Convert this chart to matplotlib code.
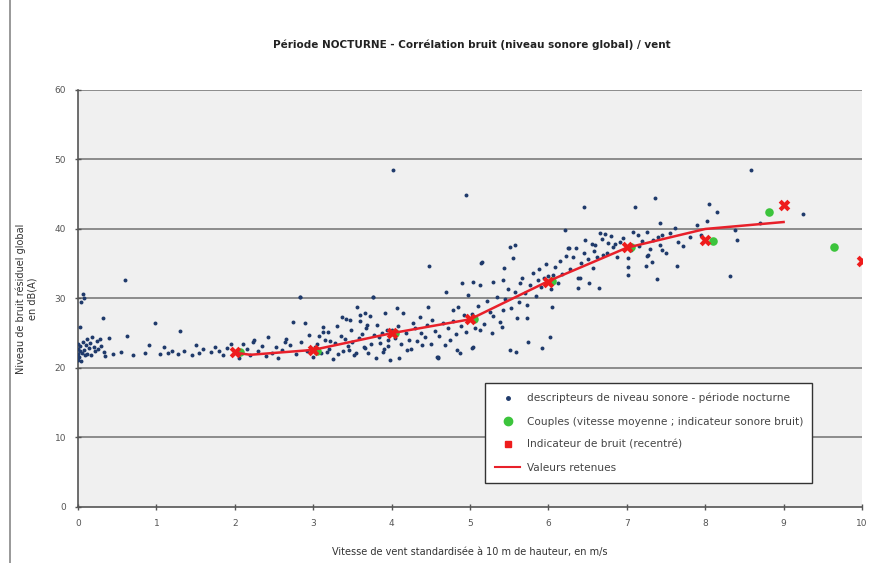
import numpy as np
import matplotlib
matplotlib.use('Agg')
import matplotlib.pyplot as plt
from matplotlib.lines import Line2D

# descripteurs de niveau sonore
desc_x = [0.00, 0.00, 0.00, 0.00, 0.01, 0.02, 0.03, 0.04, 0.05, 0.06, 0.08, 0.09, 0.10, 0.11, 0.12,
          0.14, 0.15, 0.17, 0.18, 0.20, 0.22, 0.24, 0.26, 0.28, 0.30, 0.33, 0.02, 0.04, 0.06, 0.08,
          0.32, 0.60, 0.35, 0.40, 0.45,
          0.55, 0.62, 0.70, 0.85, 0.90, 0.98, 1.05, 1.10, 1.15, 1.30, 1.35, 1.45, 1.50, 1.55, 1.60,
          1.70, 1.75, 1.80, 1.85, 1.90, 1.95, 1.28, 1.20,
          2.05, 2.10, 2.15, 2.20, 2.25, 2.30, 2.35, 2.40, 2.43, 2.48, 2.52, 2.55, 2.60, 2.65, 2.70,
          2.74, 2.78, 2.83, 2.85, 2.90, 2.92, 2.95, 3.00, 3.05, 3.10, 3.12, 3.15, 3.20, 3.25, 3.28,
          3.30, 3.35, 3.38, 3.42, 3.45, 3.48, 3.52, 3.56, 3.58, 3.60, 3.65, 3.68, 3.70, 3.72, 3.76,
          3.78, 3.80, 3.82, 3.85, 3.88, 3.90, 3.92, 3.95, 3.98,
          3.37, 3.47, 3.60, 3.66, 3.69, 3.13, 3.19, 2.64, 2.23,
          4.07, 4.15, 4.46, 4.36, 4.51, 4.27, 3.94, 3.89, 4.10, 4.20, 4.39, 4.58,
          3.02, 3.08, 3.18, 3.22, 3.32, 3.40, 3.46, 3.50, 3.55, 3.62, 3.66, 3.74, 3.84, 3.96, 4.00,
          4.05, 4.08, 4.12, 4.18, 4.22, 4.25, 4.30, 4.33, 4.38, 4.42, 4.45, 4.50, 4.55, 4.60, 4.65,
          4.68, 4.72, 4.78, 4.82, 4.88, 4.92, 4.95, 4.98, 5.02, 5.06, 5.10, 5.18, 5.22, 5.30, 5.35,
          5.38, 5.45, 5.48, 5.52, 5.58, 5.62, 5.66, 5.70, 5.76, 5.80, 5.84, 5.88, 5.90, 5.94, 5.97,
          6.00, 6.03, 6.08, 6.12, 6.15, 6.18, 6.22, 6.28, 6.32, 6.35, 6.42, 6.45, 6.50, 6.55, 6.58,
          6.68, 6.75, 6.80, 6.85, 6.88, 6.95, 7.05, 7.08, 7.15, 7.20, 7.30, 7.40, 7.50, 7.55, 7.62,
          7.72, 7.80, 7.90, 7.95,
          4.02, 4.95, 6.45, 7.10, 7.36, 6.21, 4.48, 5.51, 5.57, 5.55, 5.14, 5.43,
          5.15, 4.90, 5.04, 5.13, 5.30, 5.42, 4.70, 4.97, 5.64, 5.87, 6.06, 6.40, 6.25, 6.47, 6.05,
          5.73, 5.42, 5.26, 4.78, 4.85, 5.13, 5.28, 5.41, 5.60, 5.73, 5.74, 5.51, 5.92, 6.02, 4.59,
          4.87, 5.04, 4.74,
          8.05, 8.15, 8.02, 7.42, 6.66, 6.72, 6.60, 6.76, 6.83, 6.91, 6.26, 7.14, 7.26, 7.42, 7.65,
          7.27, 7.32, 7.24, 7.01, 7.01, 7.01, 7.38, 7.64, 6.38, 6.52, 6.65, 6.38, 6.57, 6.62, 6.70,
          8.58, 9.25, 8.40, 8.38, 8.70, 8.32, 7.45, 7.34, 7.45, 7.26,
          5.59, 4.83, 5.02, 4.59, 2.83, 3.76]
desc_y = [21.2, 22.0, 22.8, 23.5, 21.6, 22.4, 23.1, 21.0, 22.1, 23.8, 22.6, 21.8, 23.3, 24.2, 22.0,
          22.9, 23.6, 21.9, 24.5, 23.0, 22.4, 23.9, 22.7, 24.1, 23.2, 22.3, 25.9, 29.5, 30.6, 30.1,
          27.2, 32.7, 21.7, 24.3, 22.0,
          22.3, 24.6, 21.9, 22.1, 23.3, 26.5, 22.0, 23.0, 22.2, 25.3, 22.4, 21.9, 23.3, 22.1, 22.8,
          22.3, 23.0, 22.5, 21.8, 22.9, 23.5, 22.0, 22.5,
          21.5, 23.4, 22.8, 21.9, 24.0, 22.4, 23.1, 21.7, 24.5, 22.2, 23.0, 21.4, 22.6, 24.2, 23.3,
          26.6, 22.0, 30.2, 23.8, 26.5, 22.5, 24.8, 21.6, 23.4, 22.1, 25.2, 24.0, 22.8, 21.3, 23.6,
          26.0, 24.6, 22.4, 27.1, 23.2, 25.5, 21.8, 28.8, 24.3, 26.7, 23.0, 25.8, 22.1, 27.5, 30.2,
          24.7, 21.5, 26.2, 23.6, 25.1, 22.7, 27.9, 24.0, 21.2,
          27.3, 26.9, 27.6, 27.9, 26.2, 25.9, 25.2, 23.7, 23.7,
          28.6, 27.9, 28.8, 27.3, 26.9, 26.5, 25.5, 22.3, 21.4, 22.6, 23.3, 21.6,
          23.0, 24.6, 22.3, 23.9, 22.0, 24.1, 22.6, 23.7, 22.2, 24.9, 22.9, 23.5, 24.4, 23.2, 25.4,
          24.3, 26.0, 23.5, 25.1, 24.0, 22.8, 25.8, 23.9, 25.0, 24.4, 26.2, 23.5, 25.3, 24.6, 26.4,
          23.3, 25.7, 26.8, 24.9, 26.1, 27.6, 25.2, 26.9, 27.8, 25.8, 28.9, 26.3, 29.6, 27.5, 30.2,
          26.6, 29.9, 31.3, 28.7, 31.0, 29.5, 33.0, 30.8, 31.9, 33.6, 30.4, 34.2, 31.6, 32.9, 35.0,
          33.2, 31.4, 34.6, 32.2, 35.4, 33.5, 36.1, 34.3, 35.9, 37.2, 35.1, 36.6, 35.7, 37.9, 36.8,
          38.6, 36.5, 39.0, 37.9, 36.0, 38.7, 37.0, 39.5, 37.6, 38.3, 37.1, 38.9, 36.5, 39.4, 40.1,
          37.5, 38.8, 40.5, 39.2,
          48.5, 44.9, 43.2, 43.2, 44.4, 39.9, 34.7, 37.4, 37.7, 35.8, 35.1, 34.4,
          35.3, 32.2, 32.4, 32.0, 32.4, 32.7, 30.9, 30.5, 32.2, 32.7, 33.4, 32.9, 37.3, 38.4, 28.8,
          29.1, 28.3, 28.1, 28.3, 28.8, 25.5, 25.0, 25.9, 27.2, 27.2, 23.7, 22.6, 22.9, 24.5, 21.6,
          22.2, 23.0, 24.0,
          43.6, 42.4, 41.2, 40.8, 39.4, 39.3, 37.7, 38.0, 37.4, 38.1, 37.3, 39.1, 39.6, 37.7, 38.1,
          36.3, 35.3, 34.7, 35.8, 34.5, 33.4, 32.8, 34.7, 32.9, 32.2, 31.5, 31.5, 34.4, 36.0, 36.3,
          48.5, 42.2, 38.4, 39.9, 40.9, 33.2, 39.1, 38.4, 37.0, 36.1,
          22.3, 22.6, 22.9, 21.4, 30.2, 30.2]

# couples (vitesse moyenne ; indicateur sonore bruit)
couple_x = [2.07, 3.05, 4.05, 5.05, 6.05, 7.05, 8.10, 8.81, 9.64]
couple_y = [22.3, 22.4, 25.0, 27.0, 32.5, 37.4, 38.3, 42.4, 37.4]

# indicateur de bruit (recentré)
indic_x = [2, 3, 4, 5, 6, 7, 8, 9, 10]
indic_y = [22.3, 22.6, 25.0, 27.0, 32.4, 37.4, 38.4, 43.5, 35.4]

# valeurs retenues
ret_x = [2.0, 2.2, 3.0, 4.0, 5.0, 6.0, 7.0, 8.0, 9.0]
ret_y = [22.2, 21.9, 22.6, 25.0, 27.0, 32.5, 37.3, 40.0, 41.0]

fig = plt.figure(figsize=(8.85, 5.63), dpi=100)
ax = fig.add_axes([0.0881, 0.0995, 0.8859, 0.7407])
ax.set_facecolor('#f0f0f0')

for yv in range(10, 61, 10):
    ax.axhline(yv, color='#8c8c8c', lw=1.4, zorder=1)

ax.scatter(desc_x, desc_y, s=8, color='#1f3a6b', zorder=3, linewidths=0)
ax.scatter(couple_x, couple_y, s=38, color='#3cc43c', zorder=4, linewidths=0)
ax.plot(ret_x, ret_y, color='#e8202a', lw=1.8, zorder=5)
ax.scatter(indic_x, indic_y, s=70, marker='X', color='#ee1c1c', zorder=6, linewidths=0)

ax.set_xlim(0, 10)
ax.set_ylim(0, 60)
ax.set_xticks(range(0, 11))
ax.set_yticks(range(0, 61, 10))
ax.tick_params(direction='inout', length=5, width=1, colors='#555555',
               labelsize=6.5, labelcolor='#555555', pad=6)
for side in ['top', 'right']:
    ax.spines[side].set_visible(False)
for side in ['left', 'bottom']:
    ax.spines[side].set_color('#555555')
    ax.spines[side].set_linewidth(1.2)

ax.set_xlabel('Vitesse de vent standardisée à 10 m de hauteur, en m/s',
              fontsize=7, color='#333333', labelpad=14)
ax.set_ylabel('Niveau de bruit résiduel global\nen dB(A)', fontsize=7,
              color='#333333', labelpad=12)
fig.text(0.533, 0.92, 'Période NOCTURNE - Corrélation bruit (niveau sonore global) / vent',
         ha='center', va='center', fontsize=7.5, color='#222222', fontweight='bold')

handles = [
    Line2D([], [], ls='none', marker='o', ms=2.5, color='#1f3a6b'),
    Line2D([], [], ls='none', marker='o', ms=6, color='#3cc43c'),
    Line2D([], [], ls='none', marker='s', ms=5, color='#ee1c1c'),
    Line2D([], [], color='#e8202a', lw=1.5),
]
labels = ['descripteurs de niveau sonore - période nocturne',
          'Couples (vitesse moyenne ; indicateur sonore bruit)',
          'Indicateur de bruit (recentré)',
          'Valeurs retenues']
leg = ax.legend(handles, labels, loc='lower left', bbox_to_anchor=(0.513, 0.046),
                fontsize=7.6, frameon=True, fancybox=False, edgecolor='#333333',
                facecolor='white', framealpha=1, handlelength=2.4, borderpad=0.9,
                labelspacing=1.25, handletextpad=0.6)
leg.get_frame().set_linewidth(1.0)
for t in leg.get_texts():
    t.set_color('#444444')

fig.add_artist(Line2D([10 / 885, 10 / 885], [0, 1], transform=fig.transFigure,
                      color='#888888', lw=1.2))

fig.savefig('out.png', dpi=100)
